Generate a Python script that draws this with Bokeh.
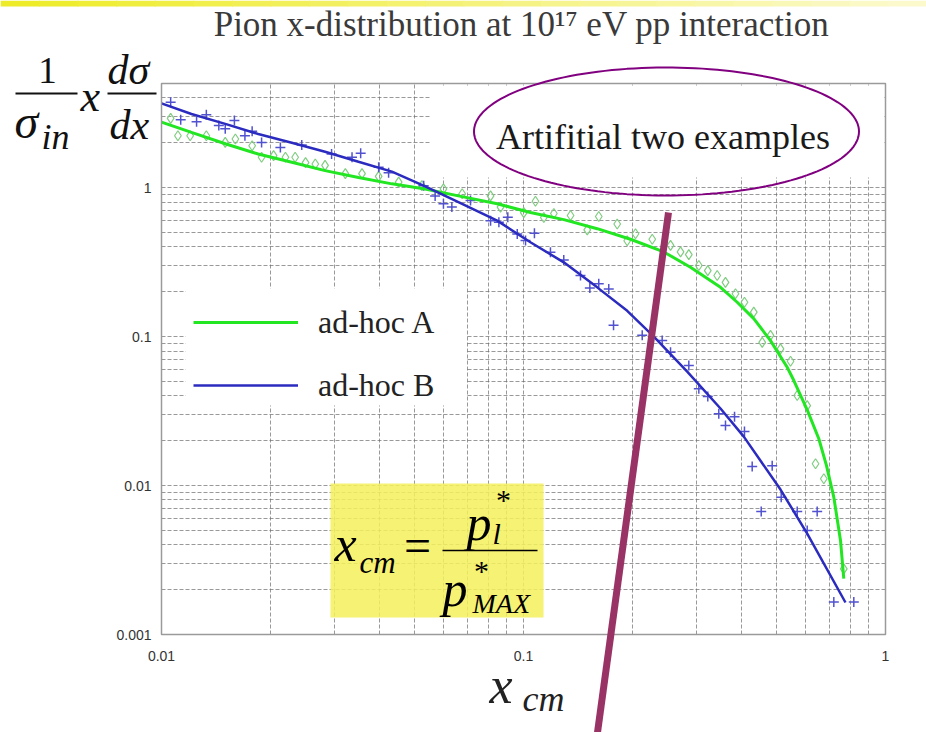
import numpy as np
from bokeh.plotting import figure
from bokeh.models import (Label, Legend, LegendItem, Arrow, PolyAnnotation,
                          BoxAnnotation, Grid, FixedTicker)
from bokeh.embed import file_html
from bokeh.resources import INLINE

# ---------------------------------------------------------------- data ----
series_names = ["ad-hoc A", "ad-hoc B"]

# smooth parametrisations: x_cm vs (1/sigma_in) x dsigma/dx
model_a_x = [0.0100, 0.0121, 0.0150, 0.0185, 0.0229, 0.0283, 0.0350, 0.0433,
             0.0535, 0.0661, 0.0846, 0.1045, 0.1292, 0.1598, 0.1975, 0.2441,
             0.2892, 0.3501, 0.3894, 0.4326, 0.4812, 0.5351, 0.5582, 0.6077,
             0.6543, 0.6871, 0.7198, 0.7511, 0.7670]
model_a_y = [2.75, 2.35, 1.97, 1.68, 1.48, 1.30, 1.17, 1.06,
             0.98, 0.88, 0.78, 0.68, 0.61, 0.53, 0.45, 0.37,
             0.292, 0.214, 0.170, 0.132, 0.094, 0.0622, 0.0507, 0.0322,
             0.0206, 0.0136, 0.00835, 0.00428, 0.00237]

model_b_x = [0.0100, 0.0121, 0.0150, 0.0185, 0.0229, 0.0283, 0.0350, 0.0433,
             0.0535, 0.0661, 0.0846, 0.1045, 0.1292, 0.1598, 0.1934, 0.2291,
             0.2833, 0.3501, 0.4060, 0.5128, 0.6077, 0.7753]
model_b_y = [3.68, 3.12, 2.68, 2.29, 2.00, 1.74, 1.49, 1.28,
             1.02, 0.80, 0.60, 0.43, 0.315, 0.214, 0.149, 0.100,
             0.0582, 0.0329, 0.0213, 0.0094, 0.00476, 0.00164]

# simulated points behind each parametrisation
sim_a_x = [0.0106, 0.0111, 0.0120, 0.0133, 0.0150, 0.0160, 0.0178, 0.0189,
           0.0204, 0.0220, 0.0234, 0.0250, 0.0266, 0.0283, 0.0322, 0.0358,
           0.0398, 0.0452, 0.0524, 0.0601, 0.0677, 0.0811, 0.0864, 0.1002,
           0.1079, 0.1138, 0.1213, 0.1349, 0.1500, 0.1614, 0.1815, 0.1934,
           0.2039, 0.2268, 0.2548, 0.2715, 0.2862, 0.3050, 0.3229, 0.3428,
           0.3614, 0.3851, 0.4078, 0.4326, 0.4565, 0.4812, 0.5128, 0.5466,
           0.5703, 0.6077, 0.6408, 0.6755, 0.7670]
sim_a_y = [2.92, 2.23, 2.23, 2.23, 2.01, 2.12, 1.91, 1.60,
           1.64, 1.60, 1.60, 1.47, 1.44, 1.41, 1.24, 1.24,
           1.19, 1.09, 1.03, 0.98, 0.91, 0.88, 0.74, 0.68,
           0.81, 0.63, 0.67, 0.65, 0.52, 0.64, 0.57, 0.44,
           0.49, 0.45, 0.41, 0.37, 0.355, 0.300, 0.277, 0.257,
           0.231, 0.194, 0.170, 0.146, 0.0915, 0.102, 0.0827, 0.0683,
           0.0402, 0.0344, 0.0140, 0.0111, 0.00276]

sim_b_x = [0.0106, 0.0113, 0.0125, 0.0133, 0.0144, 0.0150, 0.0159, 0.0170,
           0.0178, 0.0189, 0.0213, 0.0244, 0.0295, 0.0336, 0.0355, 0.0398,
           0.0424, 0.0530, 0.0570, 0.0601, 0.0634, 0.0714, 0.0811, 0.0855,
           0.0905, 0.0961, 0.1013, 0.1072, 0.1187, 0.1292, 0.1437, 0.1525,
           0.1614, 0.1720, 0.1773, 0.2128, 0.2416, 0.2548, 0.2862, 0.3050,
           0.3229, 0.3463, 0.3614, 0.3828, 0.4078, 0.4283, 0.4864, 0.5151,
           0.4536, 0.5703, 0.6475, 0.6077, 0.7198, 0.8174]
sim_b_y = [3.74, 2.85, 2.77, 3.08, 2.61, 2.48, 2.82, 2.23,
           2.39, 2.01, 1.86, 1.93, 1.68, 1.60, 1.70, 1.37,
           1.26, 1.03, 0.88, 0.78, 0.74, 0.82, 0.60, 0.585,
           0.632, 0.489, 0.441, 0.494, 0.368, 0.327, 0.257, 0.212,
           0.226, 0.209, 0.119, 0.102, 0.094, 0.0785, 0.0639, 0.0446,
           0.0396, 0.0303, 0.0253, 0.0290, 0.0231, 0.0134, 0.0136, 0.00835,
           0.00669, 0.00669, 0.00669, 0.00499, 0.00165, 0.00165]

# axis ticks
x_ticks = [0.01, 0.1, 1.0]
x_tick_labels = ["0.01", "0.1", "1"]
x_minor_ticks = [0.02, 0.03, 0.04, 0.05, 0.06, 0.07, 0.08, 0.09,
                 0.2, 0.3, 0.4, 0.5, 0.6, 0.7, 0.8, 0.9]
y_ticks = [0.001, 0.01, 0.1, 1.0]
y_tick_labels = ["0.001", "0.01", "0.1", "1"]
y_minor_ticks = [0.002, 0.003, 0.004, 0.005, 0.006, 0.007, 0.008, 0.009,
                 0.02, 0.03, 0.04, 0.05, 0.06, 0.07, 0.08, 0.09,
                 0.2, 0.3, 0.4, 0.5, 0.6, 0.7, 0.8, 0.9,
                 2.0, 3.0, 4.0]

# ------------------------------------------------------------- layout ----
W, H = 926, 732
FL, FR, FT, FB = 161, 885, 83, 634          # plot box on the page
X_LO, X_HI = 0.01, 1.0
Y_LO, Y_HI = 0.001, 5.0


def xd(px):
    """page column -> x value on the log scale"""
    f = (px - FL) / (FR - FL)
    return 10 ** (np.log10(X_LO) + f * (np.log10(X_HI) - np.log10(X_LO)))


def yd(py):
    """page row -> y value on the log scale"""
    f = (FB - py) / (FB - FT)
    return 10 ** (np.log10(Y_LO) + f * (np.log10(Y_HI) - np.log10(Y_LO)))


# the canvas is one big frame so the page-wide annotations are not clipped
p = figure(width=W, height=H, x_axis_type="log", y_axis_type="log",
           x_range=(xd(0), xd(W)), y_range=(yd(H), yd(0)),
           x_axis_location=None, y_axis_location=None,
           output_backend="svg", toolbar_location=None,
           min_border=0, min_border_left=0, min_border_right=0,
           min_border_top=0, min_border_bottom=0)
p.title.visible = False
p.background_fill_color = "white"
p.border_fill_color = "white"
p.outline_line_color = None
p.center = [c for c in p.center if not isinstance(c, Grid)]

GRID_STYLE = dict(grid_line_color="#6e6e6e", grid_line_dash="4 2",
                  grid_line_alpha=0.7, minor_grid_line_color="#6e6e6e",
                  minor_grid_line_dash="4 2", minor_grid_line_alpha=0.7)
p.add_layout(Grid(dimension=0, bounds=(X_LO, X_HI),
                  cross_bounds=(Y_LO, Y_HI),
                  ticker=FixedTicker(ticks=x_ticks, minor_ticks=x_minor_ticks),
                  **GRID_STYLE))
p.add_layout(Grid(dimension=1, bounds=(Y_LO, Y_HI),
                  cross_bounds=(X_LO, X_HI),
                  ticker=FixedTicker(ticks=y_ticks, minor_ticks=y_minor_ticks),
                  **GRID_STYLE))

# simulated points, then the two parametrisations on top
p.scatter(sim_a_x, sim_a_y, marker="diamond", size=10, fill_color=None,
          line_color="#80cc80", line_width=1.2)
p.scatter(sim_b_x, sim_b_y, marker="cross", size=10,
          line_color="#5252d0", line_width=1.5)
line_a = p.line(model_a_x, model_a_y, line_color="#22e622", line_width=3)
line_b = p.line(model_b_x, model_b_y, line_color="#2b2bbf", line_width=2.5)

# blank areas over the grid: behind the call-out and behind the legend
p.add_layout(BoxAnnotation(left=xd(430), right=xd(884), top=yd(85),
                           bottom=yd(177), fill_color="white", fill_alpha=1.0,
                           line_color=None))
p.add_layout(BoxAnnotation(left=xd(185), right=xd(466), top=yd(288),
                           bottom=yd(405), fill_color="white", fill_alpha=1.0,
                           line_color=None))

# plot box
p.add_layout(BoxAnnotation(left=X_LO, right=X_HI, bottom=Y_LO, top=Y_HI,
                           fill_alpha=0.0, line_color="#9a9a9a",
                           line_alpha=1.0, line_width=1.5))

legend = Legend(
    items=[LegendItem(label=series_names[0], renderers=[line_a]),
           LegendItem(label=series_names[1], renderers=[line_b])],
    location=(193, 327), orientation="vertical", margin=0, padding=0,
    spacing=23, glyph_width=105, glyph_height=40, label_height=40,
    label_standoff=20, border_line_color=None, background_fill_alpha=0.0,
    label_text_font="Liberation Serif", label_text_font_size="32px",
    label_text_color="#222222")
p.add_layout(legend)

# thin gradient band along the top edge of the page
n_strips = 24
for i in range(n_strips):
    t = i / (n_strips - 1)
    r = int(238 + t * (252 - 238))
    gch = int(236 + t * (250 - 236))
    b = int(40 + t * (205 - 40))
    x0, x1 = i * W / n_strips, (i + 1) * W / n_strips + 1
    p.add_layout(PolyAnnotation(
        xs=[xd(x0), xd(x1), xd(x1), xd(x0)], ys=[yd(0), yd(0), yd(6), yd(6)],
        fill_color=f"#{r:02x}{gch:02x}{b:02x}", fill_alpha=1.0,
        line_color=None))

# highlighted box behind the definition of x_cm
p.add_layout(BoxAnnotation(left=xd(330), right=xd(543), top=yd(483),
                           bottom=yd(617), fill_color="#f4f05a",
                           fill_alpha=0.85, line_color=None))

# tick labels at the tick values
for v, s in zip(x_ticks, x_tick_labels):
    p.add_layout(Label(x=v, y=yd(655), text=s, text_font="Liberation Sans",
                       text_font_size="14px", text_color="#333333",
                       text_align="center", text_baseline="middle"))
for v, s in zip(y_ticks, y_tick_labels):
    p.add_layout(Label(x=xd(151), y=v, text=s, text_font="Liberation Sans",
                       text_font_size="14px", text_color="#333333",
                       text_align="right", text_baseline="middle"))

BASE_SHIFT = 0.26   # baseline correction, in em


def put(text, px, py, size, italic=False, align="left", color="#111111",
        font="Liberation Serif"):
    p.add_layout(Label(x=xd(px), y=yd(py - BASE_SHIFT * size), text=text,
                       text_font=font, text_font_size=f"{size}px",
                       text_font_style="italic" if italic else "normal",
                       text_align=align, text_baseline="alphabetic",
                       text_color=color))


def bar(px0, px1, py, width=2.0, color="#111111"):
    p.add_layout(Arrow(x_start=xd(px0), y_start=yd(py), x_end=xd(px1),
                       y_end=yd(py), end=None, line_color=color,
                       line_width=width))


# title
put("Pion x-distribution at 10\u00b9\u2077 eV pp interaction", 521, 33, 35,
    align="center", color="#3a3a3a")

# y-axis quantity: (1/sigma_in) x dsigma/dx
put("1", 47, 80, 37, align="center")
bar(15, 77, 93)
put("\u03c3", 14, 133, 48, italic=True)
put("in", 41, 146, 36, italic=True)
put("x", 80, 107, 44, italic=True)
put("d\u03c3", 107, 80, 42, italic=True)
bar(107, 156, 93)
put("dx", 109, 135, 42, italic=True)

# x-axis quantity
put("x", 489, 699, 52, italic=True, color="#222222")
put("cm", 522, 708, 36, italic=True, color="#222222")

# x_cm = p*_l / p*_MAX
put("x", 334, 556, 50, italic=True, color="black")
put("cm", 359, 570, 31, italic=True, color="black")
put("=", 417, 557, 48, align="center", color="black")
put("p", 466, 535, 50, italic=True, color="black")
put("l", 492, 541, 30, italic=True, color="black")
put("*", 503, 507, 30, align="center", color="black")
bar(442, 537, 550, width=1.5, color="black")
put("p", 442, 601, 50, italic=True, color="black")
put("MAX", 472, 610, 28, italic=True, color="black")
put("*", 481, 578, 30, align="center", color="black")

# call-out: ellipse with its text and the pointer line
t = np.linspace(0, 2 * np.pi, 160)
p.add_layout(PolyAnnotation(xs=list(xd(666 + 192.5 * np.cos(t))),
                            ys=list(yd(131 + 64 * np.sin(t))),
                            fill_alpha=0.0, line_color="#800080",
                            line_alpha=1.0, line_width=2))
put("Artifitial two  examples", 667, 146, 36, align="center",
    color="#1a1a1a")
p.add_layout(Arrow(x_start=xd(668), y_start=yd(212), x_end=xd(597),
                   y_end=yd(732), end=None, line_color="#993366",
                   line_width=7))

open("out.html", "w").write(file_html(p, INLINE))
